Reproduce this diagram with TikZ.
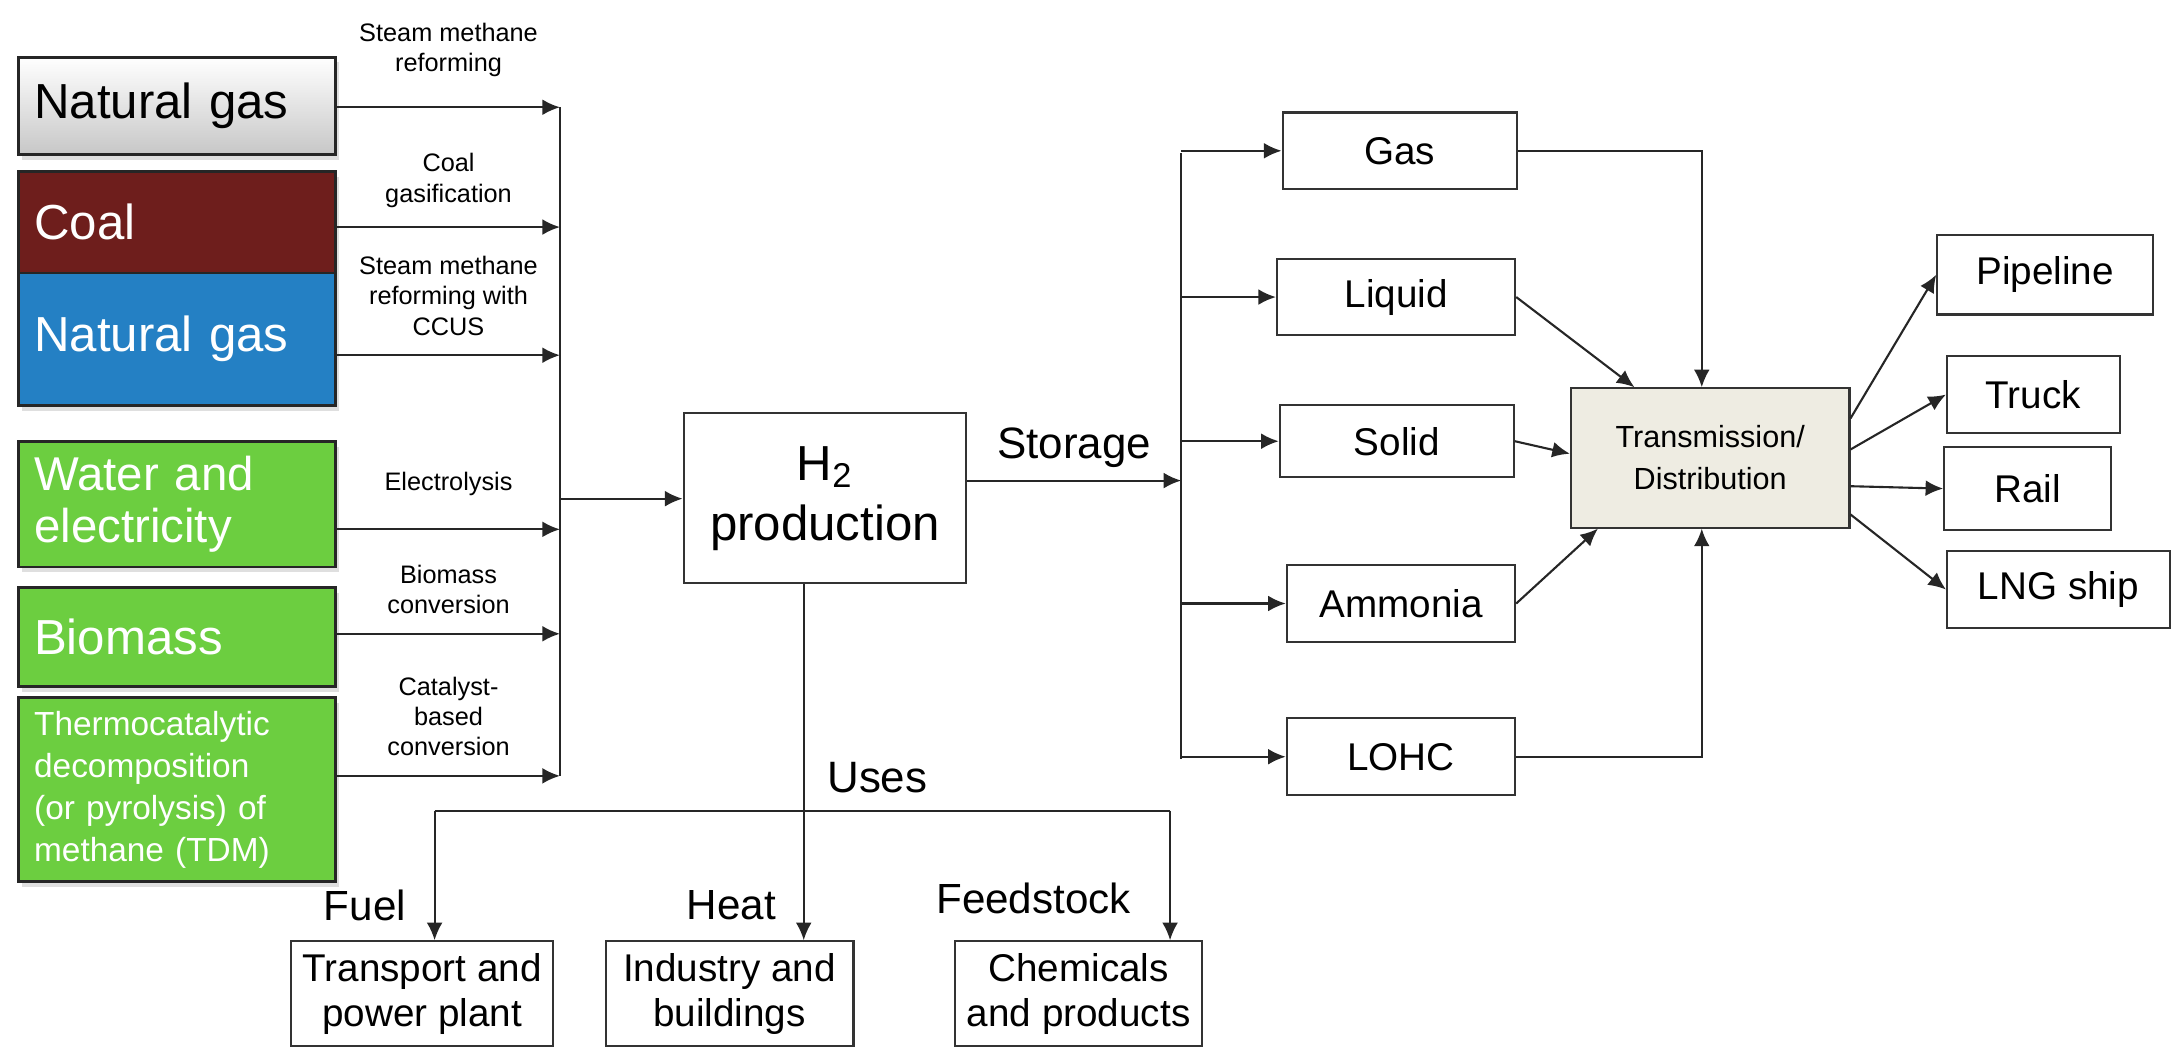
\documentclass[tikz,border=0pt]{standalone}
\usepackage{fontspec}
\setmainfont{Liberation Sans}
\usetikzlibrary{arrows.meta, positioning, shadows, calc}
\definecolor{coalred}{RGB}{110,30,28}
\definecolor{gasblue}{RGB}{36,128,196}
\definecolor{renewgreen}{RGB}{108,206,64}
\definecolor{tdbeige}{RGB}{238,236,226}
\newcommand{\px}{0.39635pt}
\tikzset{
  source/.style={draw=black!85, thick, minimum width=228*\px, minimum height=#1*\px, anchor=north west,
    font=\fontsize{14}{16}\selectfont, text=white, align=left, text width=205*\px,
    drop shadow={opacity=0.25, shadow xshift=1pt, shadow yshift=-1.5pt}},
  store/.style={draw=black!80, semithick, anchor=north west, font=\fontsize{11}{13}\selectfont, align=center},
  arrow/.style={-{Latex[length=5pt,width=4.5pt]}, semithick, draw=black!85},
  lbl/.style={font=\fontsize{7.2}{8.6}\selectfont, align=center},
}
\begin{document}
\begin{tikzpicture}[x=0.01393cm, y=-0.01393cm]
\useasboundingbox (0,0) rectangle (1560,762);

% ---- sources ----
\node[source=70, top color=white, bottom color=black!22, text=black] (ng1) at (12,40) {Natural gas};
\node[source=73, fill=coalred]    (coal)  at (12,122) {Coal};
\node[source=95, fill=gasblue]    (ng2)   at (12,195) {Natural gas};
\node[source=90, fill=renewgreen, font=\fontsize{13.5}{15}\selectfont] (water) at (12,316) {Water and\\electricity};
\node[source=71, fill=renewgreen] (bio)   at (12,421) {Biomass};
\node[source=132, fill=renewgreen, font=\fontsize{9.5}{12}\selectfont] (tdm) at (12,500) {Thermocatalytic decomposition (or pyrolysis) of methane (TDM)};

% ---- collector bus ----
\coordinate (b1) at (402,77);
\coordinate (b2) at (402,163);
\coordinate (b3) at (402,255);
\coordinate (b4) at (402,380);
\coordinate (b5) at (402,455);
\coordinate (b6) at (402,557);
\coordinate (bh) at (402,358);
\draw[arrow] (ng1.east |- b1) -- node[lbl, above=5pt] {Steam methane\\reforming} (b1);
\draw[arrow] (coal.east |- b2) -- node[lbl, above=2pt] {Coal\\gasification} (b2);
\draw[arrow] (ng2.east |- b3) -- node[lbl, above=2pt] {Steam methane\\reforming with\\CCUS} (b3);
\draw[arrow] (water.east |- b4) -- node[lbl, above=6pt] {Electrolysis} (b4);
\draw[arrow] (bio.east |- b5) -- node[lbl, above=2pt] {Biomass\\conversion} (b5);
\draw[arrow] (tdm.east |- b6) -- node[lbl, above=2pt] {Catalyst-\\based\\conversion} (b6);
\draw[semithick, black!85] (b1) -- (b6);

% ---- production ----
\node[store, minimum width=203*\px, minimum height=122*\px, font=\fontsize{14}{17}\selectfont] (h2) at (490,296) {H\textsubscript{2}\\production};
\draw[arrow] (bh) -- (h2.west |- bh);

% ---- storage ----
\node[store, minimum width=168*\px, minimum height=55*\px] (gas)  at (920,80)  {Gas};
\node[store, minimum width=171*\px, minimum height=55*\px] (liq)  at (916,185) {Liquid};
\node[store, minimum width=168*\px, minimum height=52*\px] (sol)  at (918,290) {Solid};
\node[store, minimum width=164*\px, minimum height=55*\px] (amm)  at (923,405) {Ammonia};
\node[store, minimum width=164*\px, minimum height=55*\px] (lohc) at (923,515) {LOHC};
\coordinate (sb) at (848,345);
\coordinate (stop) at (848,110);
\coordinate (sbot) at (848,545);
\draw[arrow] (h2.east |- sb) -- node[above, font=\fontsize{12.5}{15}\selectfont] {Storage} (sb);
\draw[semithick, black!85] (stop) -- (sbot);
\foreach \s in {gas, liq, sol, amm, lohc}
  \draw[arrow] (sb |- \s.west) -- (\s.west);

% ---- transmission ----
\node[store, fill=tdbeige, minimum width=200*\px, minimum height=100*\px, font=\fontsize{8.7}{12}\selectfont] (td) at (1127,278) {Transmission/\\Distribution};
\draw[arrow] (gas.east) -| ($(td.north west)!0.47!(td.north east)$);
\draw[arrow] (lohc.east) -| ($(td.south west)!0.47!(td.south east)$);
\draw[arrow] (liq.east) -- ($(td.north west)!0.23!(td.north east)$);
\draw[arrow] (sol.east) -- ($(td.north west)!0.47!(td.south west)$);
\draw[arrow] (amm.east) -- ($(td.south west)!0.1!(td.south east)$);

\node[store, minimum width=155*\px, minimum height=57*\px] (pipe)  at (1390,168) {Pipeline};
\node[store, minimum width=124*\px, minimum height=55*\px] (truck) at (1397,255) {Truck};
\node[store, minimum width=120*\px, minimum height=60*\px] (rail)  at (1395,320) {Rail};
\node[store, minimum width=160*\px, minimum height=55*\px] (lng)   at (1397,395) {LNG ship};
\draw[arrow] ($(td.north east)!0.22!(td.south east)$) -- (pipe.west);
\draw[arrow] ($(td.north east)!0.44!(td.south east)$) -- (truck.west);
\draw[arrow] ($(td.north east)!0.70!(td.south east)$) -- (rail.west);
\draw[arrow] ($(td.north east)!0.90!(td.south east)$) -- (lng.west);

% ---- uses ----
\node[store, minimum width=176*\px, minimum height=75*\px] (trans) at (208,675) {Transport and\\power plant};
\node[store, minimum width=178*\px, minimum height=75*\px] (ind)   at (434,675) {Industry and\\buildings};
\node[store, minimum width=173*\px, minimum height=75*\px] (chem)  at (685,675) {Chemicals\\and products};
\coordinate (u) at (577,582);
\coordinate (ul) at (312,582);
\coordinate (ur) at (840,582);
\draw[semithick, black!85] (h2.south -| u) -- (u);
\node[font=\fontsize{12.5}{15}\selectfont, anchor=south west] (uses) at (585,578) {Uses};
\draw[semithick, black!85] (ul) -- (ur);
\draw[arrow] (ul) -- (ul |- trans.north);
\draw[arrow] (u) -- (u |- ind.north);
\draw[arrow] (ur) -- (ur |- chem.north);
\node[font=\fontsize{12}{14}\selectfont] (fuel) at (262,650) {Fuel};
\node[font=\fontsize{12}{14}\selectfont] (heat) at (525,650) {Heat};
\node[font=\fontsize{12}{14}\selectfont] (feed) at (742,645) {Feedstock};
\end{tikzpicture}
\end{document}
